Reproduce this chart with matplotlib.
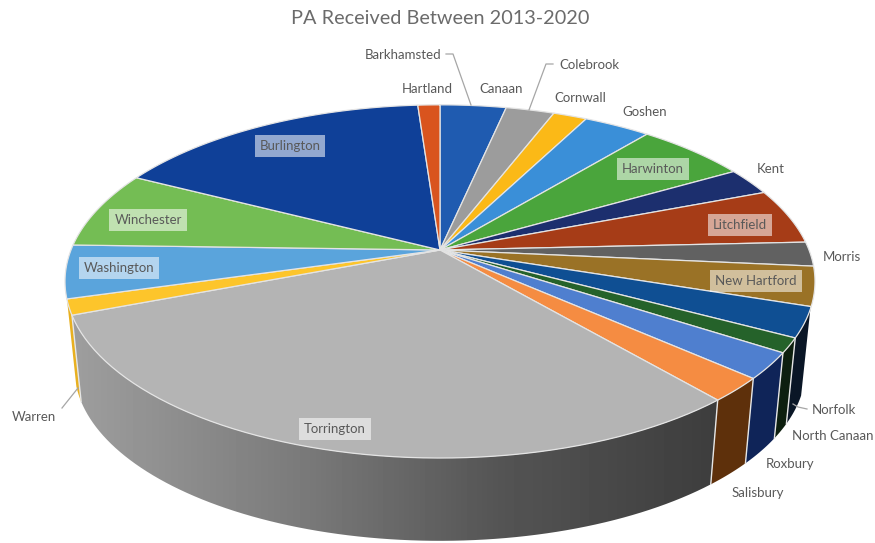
import matplotlib
matplotlib.use("Agg")
import matplotlib.pyplot as plt
from matplotlib.patches import Polygon
import numpy as np

plt.rcParams['font.family'] = ['Lato', 'DejaVu Sans']

# clockwise from 12 o'clock, percent of total
towns = ["Barkhamsted", "Canaan", "Colebrook", "Cornwall", "Goshen", "Harwinton", "Kent",
         "Litchfield", "Morris", "New Hartford", "Norfolk", "North Canaan", "Roxbury",
         "Salisbury", "Torrington", "Warren", "Washington", "Winchester", "Burlington", "Hartland"]
shares = [3.38, 0.0, 2.48, 1.73, 3.42, 5.67, 2.50, 5.08, 2.22, 3.58, 2.75, 1.33, 2.39,
          2.19, 30.47, 1.42, 4.86, 7.08, 16.32, 1.13]
top_colors = ["#1f5bb0", "#1f5bb0", "#9c9c9c", "#fbb917", "#3a8fd8", "#4aa53c", "#1c2f6e",
              "#a63c17", "#616161", "#9a7226", "#0f4f93", "#25622a", "#4f7fcf",
              "#f58c42", "#b4b4b4", "#fdc52b", "#5aa4dc", "#74bd54", "#0f4098", "#d9541e"]
side_colors = {"New Hartford": "#6b5018", "Norfolk": "#0a1626", "North Canaan": "#0d1f0f",
               "Roxbury": "#0f2458", "Salisbury": "#5e300b", "Warren": "#e8b020"}

# label centres in pixels, and which ones sit on a pale box
label_pos = {"Barkhamsted": (403, 55), "Canaan": (501, 89), "Colebrook": (589, 65),
             "Cornwall": (580, 98), "Goshen": (645, 112), "Harwinton": (653, 169),
             "Kent": (771, 169), "Litchfield": (740, 225), "Morris": (842, 257),
             "New Hartford": (756, 281), "Norfolk": (834, 410), "North Canaan": (833, 436),
             "Roxbury": (790, 464), "Salisbury": (758, 493), "Torrington": (335, 429),
             "Warren": (34, 417), "Washington": (119, 268), "Winchester": (148, 220),
             "Burlington": (290, 146), "Hartland": (427, 89)}
boxed = ["Harwinton", "Litchfield", "New Hartford", "Torrington", "Washington", "Winchester", "Burlington"]

leaders = [[(446, 54), (453, 54), (471, 105)],
           [(553, 64), (546, 64), (529, 110)],
           [(62, 408), (78, 388)],
           [(807, 409), (798, 407), (793, 404)]]

cx, cy = 440, 250
A, B, k = 171, 369, 0.178
depth, shrink = 88, 0.975


def project(theta, s=1.0, off=0.0):
    u, v = np.sin(theta), np.cos(theta)
    w = 1 + k * v
    return cx + s * B * u / w, cy + off - s * A * v / w


fig = plt.figure(figsize=(8.75, 5.43), dpi=100)
ax = fig.add_axes([0, 0, 1, 1])
ax.axis("off")

edges = np.radians(np.concatenate([[0], np.cumsum(shares)]) * 3.6)
side_lo, side_hi = np.radians(109), np.radians(254)

# Torrington's wall fades from mid grey to near black going right
grad_x = [70, 300, 500, 715]
grad_v = [0.62, 0.48, 0.33, 0.24]

# walls first
for i, town in enumerate(towns):
    t0, t1 = max(edges[i], side_lo), min(edges[i + 1], side_hi)
    if t1 <= t0:
        continue
    th = np.linspace(t0, t1, 80)
    xt, yt = project(th)
    xb, yb = project(th[::-1], shrink, depth)
    pts = list(zip(xt, yt)) + list(zip(xb, yb))
    if town == "Torrington":
        shade = np.interp(np.arange(875), grad_x, grad_v)
        im = ax.imshow(shade[np.newaxis, :], cmap="gray", vmin=0, vmax=1, aspect="auto",
                       extent=(0, 875, 543, 0), zorder=1)
        clip = Polygon(pts, closed=True, transform=ax.transData)
        im.set_clip_path(clip)
    else:
        ax.add_patch(Polygon(pts, closed=True, facecolor=side_colors[town],
                             edgecolor="none", zorder=1))
    # pale seam at the start of each wall
    if edges[i] >= side_lo:
        xa, ya = project(edges[i])
        xd, yd = project(edges[i], shrink, depth)
        ax.plot([xa, xd], [ya, yd], color="#e6e6e6", lw=1.0, zorder=2)

# top face
for i, town in enumerate(towns):
    if shares[i] == 0:
        continue
    th = np.linspace(edges[i], edges[i + 1], 60)
    xs, ys = project(th)
    pts = [(cx, cy)] + list(zip(xs, ys))
    ax.add_patch(Polygon(pts, closed=True, facecolor=top_colors[i], edgecolor="#e4e4e4",
                         lw=0.9, joinstyle="round", zorder=3))

for pts in leaders:
    xs, ys = zip(*pts)
    ax.plot(xs, ys, color="#a6a6a6", lw=0.9, zorder=4)

for town in towns:
    x, y = label_pos[town]
    box = None
    if town in boxed:
        box = dict(facecolor="white", alpha=0.55, edgecolor="none", pad=3.5)
    ax.text(x, y, town, ha="center", va="center", fontsize=9.5, color="#595959", bbox=box, zorder=5)

ax.text(440, 18, "PA Received Between 2013-2020", ha="center", va="center", fontsize=14.3, color="#6b6b6b")

ax.set_xlim(0, 875)
ax.set_ylim(543, 0)
fig.savefig("out.png", dpi=100)
